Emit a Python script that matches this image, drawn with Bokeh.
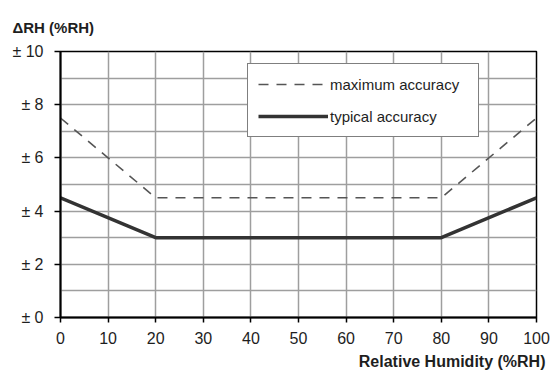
from bokeh.plotting import figure
from bokeh.models import FixedTicker, Legend, LegendItem, Title, Range1d
from bokeh.embed import file_html
from bokeh.resources import INLINE

# Accuracy tolerance of relative humidity sensor versus RH
rh = [0, 20, 80, 100]
max_accuracy = [7.5, 4.5, 4.5, 7.5]
typical_accuracy = [4.5, 3.0, 3.0, 4.5]

x_ticks = [0, 10, 20, 30, 40, 50, 60, 70, 80, 90, 100]
y_ticks = [0, 2, 4, 6, 8, 10]
y_minor = [1, 3, 5, 7, 9]
y_tick_labels = {v: "\u00b1 %d" % v for v in y_ticks}

FONT = "Liberation Sans"
TXT = "#1e1e1e"

p = figure(width=550, height=378, output_backend="svg", toolbar_location=None,
           x_range=Range1d(0, 100), y_range=Range1d(0, 10),
           min_border_left=60, min_border_right=14,
           min_border_top=50, min_border_bottom=61)
p.outline_line_color = "black"
p.outline_line_width = 1.5

for ax in (p.xaxis[0], p.yaxis[0]):
    ax.axis_line_color = "black"
    ax.axis_line_width = 2
    ax.major_tick_line_color = "black"
    ax.major_tick_line_width = 1.5
    ax.major_tick_in = 0
    ax.minor_tick_line_color = None
    ax.major_label_text_font = FONT
    ax.major_label_text_font_size = "16px"
    ax.major_label_text_color = TXT

p.xaxis.major_tick_out = 5
p.xaxis.major_label_standoff = 9
p.yaxis.major_tick_out = 6
p.yaxis.major_label_standoff = 11

p.xaxis.ticker = FixedTicker(ticks=x_ticks)
p.yaxis.ticker = FixedTicker(ticks=y_ticks, minor_ticks=y_minor)
p.yaxis.major_label_overrides = y_tick_labels

p.xgrid.grid_line_color = "#9e9e9e"
p.xgrid.grid_line_width = 1.5
p.ygrid.grid_line_color = "#9e9e9e"
p.ygrid.grid_line_width = 1.5
p.ygrid.minor_grid_line_color = "#9e9e9e"
p.ygrid.minor_grid_line_width = 1.5

r_max = p.line(rh, max_accuracy, line_color="#555555", line_width=1.6,
               line_dash="10 8")
r_typ = p.line(rh, typical_accuracy, line_color="#333333", line_width=3.5)

legend = Legend(items=[LegendItem(label="maximum accuracy", renderers=[r_max]),
                       LegendItem(label="typical accuracy", renderers=[r_typ])],
                location=(187, 180), orientation="vertical",
                glyph_width=70, glyph_height=20, label_standoff=2,
                label_height=20, label_width=138, padding=10, spacing=12,
                margin=0,
                border_line_color="black", border_line_width=1.5,
                background_fill_color="white", background_fill_alpha=1,
                label_text_font=FONT, label_text_font_size="15px",
                label_text_color=TXT)
p.add_layout(legend, "center")

p.add_layout(Title(text="\u0394RH (%RH)", align="left", offset=-48,
                   text_font=FONT, text_font_size="15px", text_font_style="bold",
                   text_color=TXT, standoff=32), "above")
p.add_layout(Title(text="Relative Humidity (%RH)", align="right", offset=-9,
                   text_font=FONT, text_font_size="16px", text_font_style="bold",
                   text_color=TXT, standoff=9), "below")

open("out.html", "w").write(file_html(p, INLINE))
